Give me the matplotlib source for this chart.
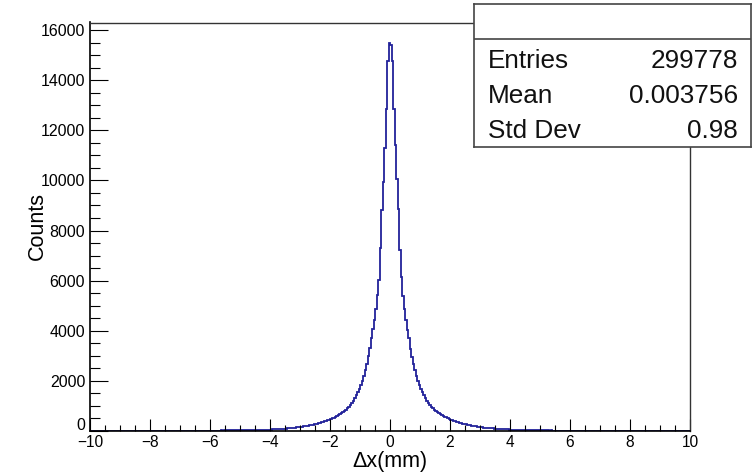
import numpy as np
import matplotlib
matplotlib.use("Agg")
import matplotlib.pyplot as plt
from matplotlib.ticker import MultipleLocator
from matplotlib.transforms import ScaledTranslation

plt.rcParams['font.family'] = ['Liberation Sans', 'DejaVu Sans']

# ---------------- data (counts per 0.05 mm bin) ----------------
x_min, x_max, n_bins = -10.0, 10.0, 400

# bins from -10 to -5
left_tail = [3, 4, 3, 4, 4, 3, 5, 4, 4, 5, 4, 5, 5, 4, 5, 6, 5, 5, 6, 5,
             6, 6, 5, 7, 6, 6, 7, 6, 7, 7, 7, 8, 7, 7, 8, 8, 7, 8, 9, 8,
             8, 9, 9, 8, 10, 9, 9, 10, 10, 9, 10, 11, 10, 11, 11, 10, 12, 11, 12, 12,
             12, 13, 12, 13, 14, 13, 13, 14, 14, 15, 14, 15, 15, 16, 15, 16, 17, 16, 17, 17,
             18, 17, 18, 19, 18, 19, 19, 20, 19, 20, 20, 21, 20, 21, 22, 21, 22, 22, 23, 22]

# bins from -5 to 0
left_core = [22, 23, 23, 25, 26, 27, 29, 31, 32, 34, 36, 38, 40, 43, 44, 46, 49, 51, 54, 56,
             58, 61, 63, 66, 70, 73, 78, 82, 86, 92, 96, 102, 107, 113, 119, 126, 133, 141, 149, 157,
             165, 174, 183, 193, 203, 214, 226, 238, 250, 264, 279, 295, 311, 329, 348, 368, 390, 412, 433, 458,
             482, 508, 538, 568, 598, 635, 672, 714, 758, 802, 848, 902, 958, 1028, 1105, 1195, 1305, 1425, 1548, 1685,
             1828, 1985, 2195, 2440, 2690, 2975, 3310, 3710, 4060, 4430, 4880, 5420, 6030, 7310, 8820, 9940, 11300, 12860, 14760, 15480]

# bins from 0 to 5
right_core = [15420, 14760, 12860, 11420, 10060, 8860, 7230, 6150, 5380, 4870, 4440, 4050, 3730, 3290, 2970, 2680, 2430, 2210, 1995, 1835,
              1675, 1545, 1430, 1315, 1205, 1110, 1030, 962, 898, 846, 798, 757, 716, 678, 640, 602, 572, 540, 508, 480,
              455, 428, 409, 388, 369, 349, 331, 312, 296, 280, 264, 251, 237, 226, 213, 202, 191, 182, 172, 164,
              155, 148, 139, 133, 126, 120, 113, 108, 102, 97, 91, 87, 82, 78, 74, 70, 67, 63, 60, 57,
              54, 51, 49, 46, 44, 42, 40, 37, 36, 34, 32, 31, 29, 27, 26, 25, 24, 23, 22, 21]

# bins from 5 to 10
right_tail = [21, 22, 21, 20, 21, 20, 19, 20, 19, 19, 18, 19, 18, 17, 18, 17, 17, 16, 17, 16,
              15, 16, 15, 15, 14, 15, 14, 14, 13, 14, 13, 12, 13, 12, 12, 11, 12, 11, 11, 10,
              11, 10, 10, 9, 10, 9, 9, 9, 8, 9, 8, 8, 9, 8, 7, 8, 7, 7, 8, 7,
              6, 7, 6, 7, 6, 6, 5, 6, 6, 5, 6, 5, 5, 6, 5, 4, 5, 5, 4, 5,
              4, 4, 5, 4, 4, 3, 4, 4, 3, 4, 3, 4, 3, 3, 4, 3, 3, 2, 3, 3]

counts = np.array(left_tail + left_core + right_core + right_tail, dtype=float)
edges = np.linspace(x_min, x_max, n_bins + 1)

stat_names = ["Entries", "Mean", "Std Dev"]
stat_values = ["299778", "0.003756", "0.98"]

# ---------------- figure ----------------
W, H = 753, 476
fig = plt.figure(figsize=(W / 100, H / 100), dpi=100)
fig.patch.set_facecolor('white')

ax_l, ax_r, ax_t, ax_b = 90, 690, 22.5, 431
ax = fig.add_axes([ax_l / W, 1 - ax_b / H, (ax_r - ax_l) / W, (ax_b - ax_t) / H])

ax.stairs(counts, edges, color='#22229a', linewidth=1.3, baseline=None)

ax.set_xlim(x_min, x_max)
ax.set_ylim(0, 16300)

ax.xaxis.set_major_locator(MultipleLocator(2))
ax.xaxis.set_minor_locator(MultipleLocator(0.5))
ax.yaxis.set_major_locator(MultipleLocator(2000))
ax.yaxis.set_minor_locator(MultipleLocator(500))

ax.tick_params(axis='x', which='major', direction='in', length=8.6, width=0.8,
               labelsize=11.2, pad=3, top=False)
ax.tick_params(axis='x', which='minor', direction='in', length=4.3, width=0.8, top=False)
ax.tick_params(axis='y', which='major', direction='in', length=13, width=0.8,
               labelsize=11.5, pad=3.5, right=False)
ax.tick_params(axis='y', which='minor', direction='in', length=7, width=0.8, right=False)

for s in ['left', 'bottom']:
    ax.spines[s].set_linewidth(1.2)
    ax.spines[s].set_color('black')
for s in ['top', 'right']:
    ax.spines[s].set_linewidth(1.0)
    ax.spines[s].set_color('#333333')

# shift the "0" y label upward like ROOT does
fig.canvas.draw()
for lab in ax.get_yticklabels():
    if lab.get_text() in ('0',):
        lab.set_transform(lab.get_transform() + ScaledTranslation(0, 5 / 72, fig.dpi_scale_trans))

fig.text(390 / W, 1 - 451 / H, 'Δx(mm)', ha='center', va='top', fontsize=15.5)
fig.text(37 / W, 1 - 226 / H, 'Counts', ha='center', va='center', rotation=90, fontsize=15.5)

# ---------------- stats box ----------------
bx0, bx1, by0, by1 = 474, 751, 4, 147
sax = fig.add_axes([bx0 / W, 1 - by1 / H, (bx1 - bx0) / W, (by1 - by0) / H])
sax.set_xlim(0, 1)
sax.set_ylim(0, 1)
sax.set_xticks([])
sax.set_yticks([])
sax.set_facecolor('white')
for s in sax.spines.values():
    s.set_color('#444444')
    s.set_linewidth(1.2)
sax.axhline((by1 - 39) / (by1 - by0), color='#444444', linewidth=1.2)
baselines = [68.3, 102.7, 138.3]
for name, val, b in zip(stat_names, stat_values, baselines):
    yf = (by1 - b) / (by1 - by0)
    sax.text(0.05, yf, name, ha='left', va='baseline', fontsize=18.8, color='#111111')
    sax.text(0.952, yf, val, ha='right', va='baseline', fontsize=18.8, color='#111111')

fig.savefig('out.png', dpi=100, facecolor='white')
